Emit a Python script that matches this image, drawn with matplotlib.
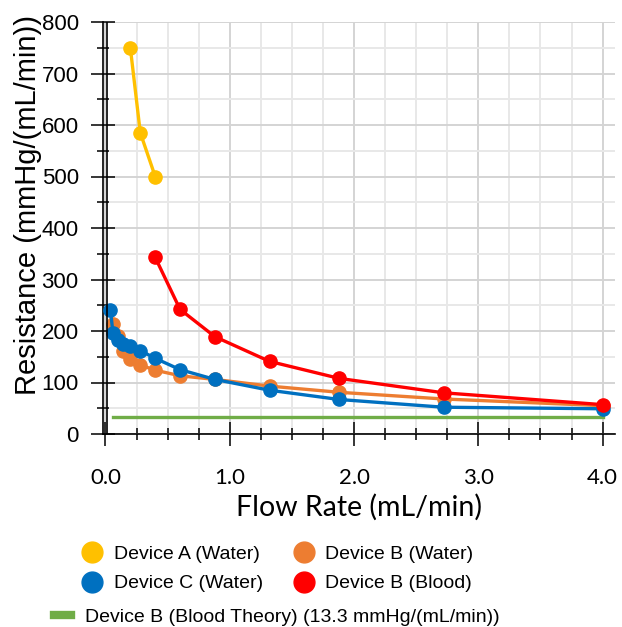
import numpy as np
import matplotlib
matplotlib.use("Agg")
import matplotlib.pyplot as plt
from matplotlib.lines import Line2D
from matplotlib.ticker import MultipleLocator, FormatStrFormatter

# data
a_x = [0.2, 0.28, 0.4]
a_y = [750, 585, 500]

bw_x = [0.06, 0.1, 0.14, 0.2, 0.28, 0.4, 0.6, 0.88, 1.32, 1.88, 2.72, 4.0]
bw_y = [213, 190, 162, 145, 134, 124, 113, 106, 93, 81, 68, 55]

c_x = [0.04, 0.06, 0.1, 0.14, 0.2, 0.28, 0.4, 0.6, 0.88, 1.32, 1.88, 2.72, 4.0]
c_y = [241, 196, 183, 175, 171, 162, 147, 125, 106, 85, 67, 52, 49]

bb_x = [0.4, 0.6, 0.88, 1.32, 1.88, 2.72, 4.0]
bb_y = [343, 242, 189, 141, 108, 80, 57]

theory_x = [0.06, 4.0]
theory_y = [33, 33]

labels = ["Device A (Water)", "Device B (Water)", "Device C (Water)",
          "Device B (Blood)", "Device B (Blood Theory) (13.3 mmHg/(mL/min))"]
colors = ["#FFC000", "#ED7D31", "#0070C0", "#FF0000", "#70AD47"]

fig = plt.figure(figsize=(6.22, 6.27), dpi=100)
ax = fig.add_axes([103/622, 1-434/627, (615-103)/622, 412/627])

ax.plot(theory_x, theory_y, color=colors[4], lw=2.4, zorder=2)
ax.plot(bw_x, bw_y, color=colors[1], lw=2.4, marker="o", ms=9.5, zorder=3)
ax.plot(c_x, c_y, color=colors[2], lw=2.4, marker="o", ms=9.5, zorder=4)
ax.plot(bb_x, bb_y, color=colors[3], lw=2.4, marker="o", ms=9.5, zorder=5)
ax.plot(a_x, a_y, color=colors[0], lw=2.4, marker="o", ms=9.5, zorder=5)

ax.set_xlim(-0.02, 4.1)
ax.set_ylim(0, 800)
ax.axvline(0.012, color="black", lw=1.2, zorder=6)

ax.xaxis.set_major_locator(MultipleLocator(1.0))
ax.xaxis.set_minor_locator(MultipleLocator(0.25))
ax.yaxis.set_major_locator(MultipleLocator(100))
ax.yaxis.set_minor_locator(MultipleLocator(50))
ax.xaxis.set_major_formatter(FormatStrFormatter("%.1f"))

ax.grid(which="major", color="#d4d4d4", lw=1.4, zorder=0)
ax.grid(which="minor", color="#e8e8e8", lw=1.4, zorder=0)
ax.set_axisbelow(True)

for s in ["top", "right"]:
    ax.spines[s].set_visible(False)
for s in ["left", "bottom"]:
    ax.spines[s].set_linewidth(1.2)

ax.tick_params(which="major", direction="inout", length=17, width=1.1)
ax.tick_params(which="minor", direction="inout", length=9, width=1.1)
ax.tick_params(axis="x", which="major", labelsize=16, pad=16)
ax.tick_params(axis="y", which="major", labelsize=16, pad=9)
for lab in ax.get_xticklabels():
    lab.set_fontfamily("Lato")
for lab in ax.get_yticklabels():
    lab.set_fontfamily("Liberation Sans")

ax.set_xlabel("Flow Rate (mL/min)", fontsize=20.5, family="Lato", labelpad=4)
ax.set_ylabel("Resistance (mmHg/(mL/min))", fontsize=21, family="Liberation Sans")
ax.yaxis.set_label_coords(-0.12, 0.555)

mk = lambda c: Line2D([], [], ls="none", marker="o", ms=15, color=c)
fig.legend([mk(colors[0]), mk(colors[2]), mk(colors[1]), mk(colors[3])],
           [labels[0], labels[2], labels[1], labels[3]],
           ncol=2, loc="center", bbox_to_anchor=(0.445, 1-569/627), frameon=False,
           prop={"family": "Liberation Sans", "size": 14}, handlelength=1.2,
           handletextpad=0.5, columnspacing=1.5, labelspacing=0.6)
fig.legend([Line2D([], [], color=colors[4], lw=6)], [labels[4]],
           loc="center", bbox_to_anchor=(0.445, 1-617/627), frameon=False,
           prop={"family": "Liberation Sans", "size": 14}, handlelength=0.9,
           handletextpad=0.7)

fig.savefig("out.png", dpi=100)
